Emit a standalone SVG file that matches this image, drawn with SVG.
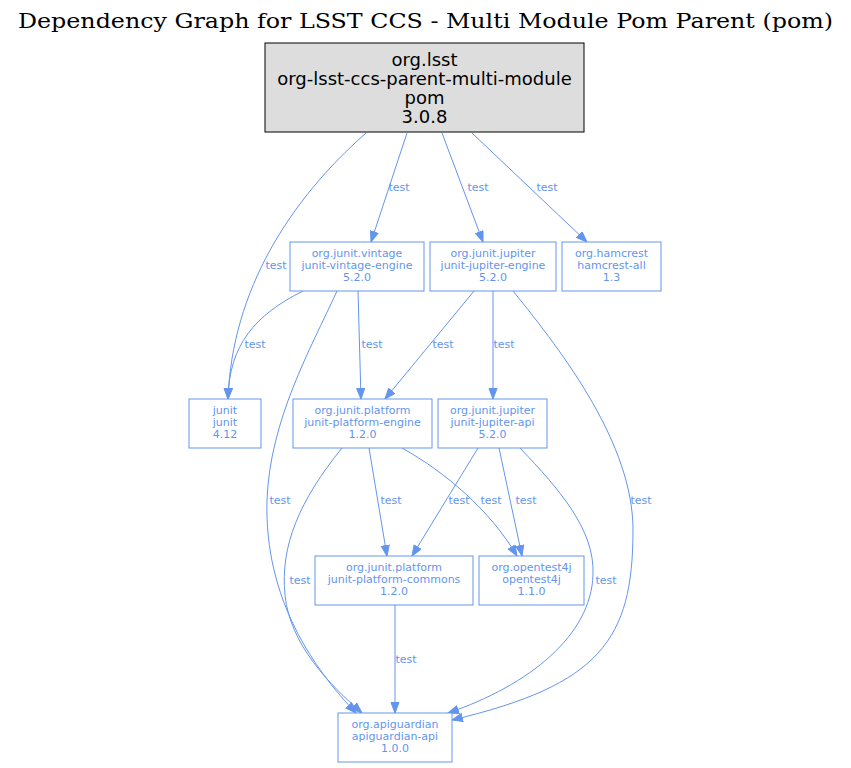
<svg xmlns="http://www.w3.org/2000/svg" width="851" height="768" viewBox="0 0 851 768">
<style>
.t{font-family:"DejaVu Serif",serif;font-size:21px;fill:#000}
.rn{fill:#dddddd;stroke:#000;stroke-width:1}
.rt{font-family:"DejaVu Sans",sans-serif;font-size:18px;fill:#000;text-anchor:middle}
.n{fill:#fff;stroke:#6495ED;stroke-width:1}
.nt{font-family:"DejaVu Sans",sans-serif;font-size:11px;fill:#6495ED;text-anchor:middle}
.e{fill:none;stroke:#6495ED;stroke-width:1;marker-end:url(#ah)}
.el{font-family:"DejaVu Sans",sans-serif;font-size:11px;fill:#6495ED;text-anchor:middle}
</style>
<defs>
<marker id="ah" markerUnits="userSpaceOnUse" markerWidth="12" markerHeight="10" refX="11" refY="4.5" orient="auto">
<path d="M0.5,0.5 L11,4.5 L0.5,8.5 z" fill="#6495ED" stroke="#6495ED" stroke-width="1"/>
</marker>
</defs>
<rect width="851" height="768" fill="#fff"/>
<text class="t" x="18" y="28" textLength="815" lengthAdjust="spacingAndGlyphs">Dependency Graph for LSST CCS - Multi Module Pom Parent (pom)</text>
<g id="edges">
<path class="e" d="M366,133 C290,200 232,290 228,399"/>
<path class="e" d="M407,133 L371,242"/>
<path class="e" d="M442,133 L483,242"/>
<path class="e" d="M472,133 L587,242"/>
<path class="e" d="M303,291 C255,315 229,345 228,399"/>
<path class="e" d="M358,291 L361,399"/>
<path class="e" d="M337,291 C310,350 270,420 267,500 C264,600 315,670 356,713"/>
<path class="e" d="M474,291 L385,399"/>
<path class="e" d="M493,291 L493,399"/>
<path class="e" d="M513,291 C565,355 633,445 633,530 C633,640 600,685 452,720"/>
<path class="e" d="M369,448 L387,556"/>
<path class="e" d="M402,448 C445,472 490,510 517,556"/>
<path class="e" d="M342,448 C300,500 280,545 285,595 C290,645 330,685 362,713"/>
<path class="e" d="M478,448 L412,556"/>
<path class="e" d="M499,448 L522,556"/>
<path class="e" d="M520,448 C560,490 595,530 593,575 C591,635 530,685 448,713"/>
<path class="e" d="M395,605 L395,713"/>
<text class="el" x="276" y="269">test</text>
<text class="el" x="399" y="191">test</text>
<text class="el" x="478" y="191">test</text>
<text class="el" x="547" y="191">test</text>
<text class="el" x="255" y="348">test</text>
<text class="el" x="372" y="348">test</text>
<text class="el" x="280" y="504">test</text>
<text class="el" x="443" y="348">test</text>
<text class="el" x="504" y="348">test</text>
<text class="el" x="641" y="504">test</text>
<text class="el" x="391" y="504">test</text>
<text class="el" x="491" y="504">test</text>
<text class="el" x="300" y="584">test</text>
<text class="el" x="459" y="504">test</text>
<text class="el" x="526" y="504">test</text>
<text class="el" x="606" y="584">test</text>
<text class="el" x="406" y="663">test</text>
</g>
<g id="root">
<rect class="rn" x="265" y="43" width="319" height="89"/>
<text class="rt" x="424.5" y="66">org.lsst</text>
<text class="rt" x="424.5" y="85">org-lsst-ccs-parent-multi-module</text>
<text class="rt" x="424.5" y="104">pom</text>
<text class="rt" x="424.5" y="123">3.0.8</text>
</g>
<g id="vintage">
<rect class="n" x="290" y="242" width="134" height="49"/>
<text class="nt" x="357" y="257">org.junit.vintage</text>
<text class="nt" x="357" y="269">junit-vintage-engine</text>
<text class="nt" x="357" y="281">5.2.0</text>
</g>
<g id="jupiter-engine">
<rect class="n" x="430" y="242" width="126" height="49"/>
<text class="nt" x="493" y="257">org.junit.jupiter</text>
<text class="nt" x="493" y="269">junit-jupiter-engine</text>
<text class="nt" x="493" y="281">5.2.0</text>
</g>
<g id="hamcrest">
<rect class="n" x="562" y="242" width="99" height="49"/>
<text class="nt" x="611.5" y="257">org.hamcrest</text>
<text class="nt" x="611.5" y="269">hamcrest-all</text>
<text class="nt" x="611.5" y="281">1.3</text>
</g>
<g id="junit">
<rect class="n" x="189" y="399" width="72" height="49"/>
<text class="nt" x="225" y="414">junit</text>
<text class="nt" x="225" y="426">junit</text>
<text class="nt" x="225" y="438">4.12</text>
</g>
<g id="platform-engine">
<rect class="n" x="293" y="399" width="139" height="49"/>
<text class="nt" x="362.5" y="414">org.junit.platform</text>
<text class="nt" x="362.5" y="426">junit-platform-engine</text>
<text class="nt" x="362.5" y="438">1.2.0</text>
</g>
<g id="jupiter-api">
<rect class="n" x="438" y="399" width="109" height="49"/>
<text class="nt" x="492.5" y="414">org.junit.jupiter</text>
<text class="nt" x="492.5" y="426">junit-jupiter-api</text>
<text class="nt" x="492.5" y="438">5.2.0</text>
</g>
<g id="platform-commons">
<rect class="n" x="315" y="556" width="158" height="49"/>
<text class="nt" x="394" y="571">org.junit.platform</text>
<text class="nt" x="394" y="583">junit-platform-commons</text>
<text class="nt" x="394" y="595">1.2.0</text>
</g>
<g id="opentest4j">
<rect class="n" x="479" y="556" width="105" height="49"/>
<text class="nt" x="531.5" y="571">org.opentest4j</text>
<text class="nt" x="531.5" y="583">opentest4j</text>
<text class="nt" x="531.5" y="595">1.1.0</text>
</g>
<g id="apiguardian">
<rect class="n" x="338" y="713" width="114" height="49"/>
<text class="nt" x="395" y="728">org.apiguardian</text>
<text class="nt" x="395" y="740">apiguardian-api</text>
<text class="nt" x="395" y="752">1.0.0</text>
</g>
</svg>
